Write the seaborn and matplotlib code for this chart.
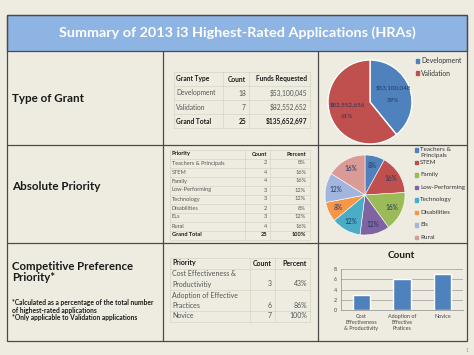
import numpy as np
import pandas as pd
import matplotlib
matplotlib.use('Agg')
import matplotlib.pyplot as plt
from matplotlib.patches import Rectangle
import seaborn as sns

# ---------------- data ----------------
grant_types = ['Development', 'Validation']
grant_counts = [18, 7]
grant_funds = [53100045, 82552652]
grant_total_count = 25
grant_total_funds = 135652697

priorities = ['Teachers & Principals', 'STEM', 'Family', 'Low-Performing',
              'Technology', 'Disabilities', 'ELs', 'Rural']
priority_legend = ['Teachers &\nPrincipals', 'STEM', 'Family', 'Low-Performing',
                   'Technology', 'Disabilities', 'Els', 'Rural']
priority_counts = [2, 4, 4, 3, 3, 2, 3, 4]
priority_pct = ['8%', '16%', '16%', '12%', '12%', '8%', '12%', '16%']

comp_rows = ['Cost Effectiveness &\nProductivitiy', 'Adoption of Effective\nPractices', 'Novice']
comp_bar_labels = ['Cost\nEffectiveness\n& Productivity', 'Adoption of\nEffective\nPratices', 'Novice']
comp_counts = [3, 6, 7]
comp_pct = ['43%', '86%', '100%']

# ---------------- style ----------------
BG = '#EEECE1'
TITLE_BLUE = '#8EB4E3'
LINE = '#4a4a4a'
GRID = '#d6d3c6'
NAVY = '#1F3864'
TXT = '#1a1a1a'
GREY_TXT = '#555555'
grant_colors = ['#4F81BD', '#C0504D']
prio_colors = ['#4F81BD', '#C0504D', '#9BBB59', '#8064A2',
               '#4BACC6', '#F79646', '#A2B6DD', '#D99A98']

W, H = 474, 355
sns.set_theme(style='white')
plt.rcParams['font.family'] = ['Lato', 'DejaVu Sans']

fig = plt.figure(figsize=(W / 100, H / 100), dpi=100)
fig.patch.set_facecolor(BG)


def px_axes(x, y, w, h):
    return fig.add_axes([x / W, 1 - (y + h) / H, w / W, h / H])


bg = px_axes(0, 0, W, H)
bg.set_xlim(0, W)
bg.set_ylim(H, 0)
bg.axis('off')

# frame and grid of the slide
bg.add_patch(Rectangle((7, 15), 460, 36, facecolor=TITLE_BLUE, edgecolor=LINE, lw=0.9))
bg.add_patch(Rectangle((7, 15), 460, 326, facecolor='none', edgecolor=LINE, lw=0.9))
for yy in [145, 243]:
    bg.plot([7, 467], [yy, yy], color=LINE, lw=0.9)
for xx in [163, 318]:
    bg.plot([xx, xx], [51, 341], color=LINE, lw=0.9)

bg.text(237, 33, 'Summary of 2013 i3 Highest-Rated Applications (HRAs)', color='white',
        fontsize=10.4, fontweight='bold', ha='center', va='center')

# left column labels
bg.text(12, 98, 'Type of Grant', fontsize=8.4, fontweight='bold', color=TXT, va='center')
bg.text(12, 187, 'Absolute Priority', fontsize=8.4, fontweight='bold', color=TXT, va='center')
bg.text(12, 272, 'Competitive Preference\nPriority*', fontsize=8.2, fontweight='bold',
        color=TXT, va='center', linespacing=1.1)
bg.text(12, 310, '*Calculated as a percentage of the total number\nof highest-rated applications\n'
        '*Only applicable to Validation applications', fontsize=4.8, fontweight='bold',
        color=TXT, va='center', linespacing=1.15)
bg.text(467, 350, '1', fontsize=4, color='#999999', ha='center', va='center')


def table_lines(x0, x1, y_edges, x_cols):
    for yy in y_edges:
        bg.plot([x0, x1], [yy, yy], color=GRID, lw=0.5)
    for xx in [x0] + x_cols + [x1]:
        bg.plot([xx, xx], [y_edges[0], y_edges[-1]], color=GRID, lw=0.5)


# ---- table 1: grant type ----
t1_y = [79, 93, 107, 121]
table_lines(174, 310, [72, 86, 100, 114, 128], [223, 249])
fs1 = 4.8
bg.text(176, t1_y[0], 'Grant Type', fontsize=fs1, fontweight='bold', color=TXT, va='center')
bg.text(246, t1_y[0], 'Count', fontsize=fs1, fontweight='bold', color=TXT, va='center', ha='right')
bg.text(307, t1_y[0], 'Funds Requested', fontsize=fs1, fontweight='bold', color=TXT, va='center', ha='right')
for i, (g, c, f) in enumerate(zip(grant_types, grant_counts, grant_funds)):
    y = t1_y[i + 1]
    bg.text(176, y, g, fontsize=fs1, color=GREY_TXT, va='center')
    bg.text(246, y, str(c), fontsize=fs1, color=GREY_TXT, va='center', ha='right')
    bg.text(307, y, f'${f:,}', fontsize=fs1, color=GREY_TXT, va='center', ha='right')
bg.text(176, t1_y[3], 'Grand Total', fontsize=fs1, fontweight='bold', color=TXT, va='center')
bg.text(246, t1_y[3], str(grant_total_count), fontsize=fs1, fontweight='bold', color=TXT, va='center', ha='right')
bg.text(307, t1_y[3], f'${grant_total_funds:,}', fontsize=fs1, fontweight='bold', color=TXT, va='center', ha='right')

# ---- table 2: absolute priority ----
fs2 = 4.1
t2_y = [154 + 9 * i for i in range(10)]
table_lines(170, 310, [149.5 + 9 * i for i in range(11)], [245, 270])
bg.text(172, t2_y[0], 'Priority', fontsize=fs2, fontweight='bold', color=TXT, va='center')
bg.text(267, t2_y[0], 'Count', fontsize=fs2, fontweight='bold', color=TXT, va='center', ha='right')
bg.text(306, t2_y[0], 'Percent', fontsize=fs2, fontweight='bold', color=TXT, va='center', ha='right')
for i, (p, c, pc) in enumerate(zip(priorities, priority_counts, priority_pct)):
    y = t2_y[i + 1]
    bg.text(172, y, p, fontsize=fs2, color=GREY_TXT, va='center')
    bg.text(267, y, str(c), fontsize=fs2, color=GREY_TXT, va='center', ha='right')
    bg.text(306, y, pc, fontsize=fs2, color=GREY_TXT, va='center', ha='right')
bg.text(172, t2_y[9], 'Grand Total', fontsize=fs2, fontweight='bold', color=TXT, va='center')
bg.text(267, t2_y[9], str(sum(priority_counts)), fontsize=fs2, fontweight='bold', color=TXT, va='center', ha='right')
bg.text(306, t2_y[9], '100%', fontsize=fs2, fontweight='bold', color=TXT, va='center', ha='right')

# ---- table 3: competitive preference ----
fs3 = 5
table_lines(170, 310, [257.5, 268.5, 289.5, 310.5, 321.5], [250, 275])
bg.text(172, 263, 'Priority', fontsize=fs3, fontweight='bold', color=TXT, va='center')
bg.text(272, 263, 'Count', fontsize=fs3, fontweight='bold', color=TXT, va='center', ha='right')
bg.text(307, 263, 'Percent', fontsize=fs3, fontweight='bold', color=TXT, va='center', ha='right')
row_bottom = [284, 306, 316]
for lab, c, pc, yb in zip(comp_rows, comp_counts, comp_pct, row_bottom):
    bg.text(172, yb + 3.5, lab, fontsize=fs3, color=GREY_TXT, va='bottom', linespacing=1.55)
    bg.text(272, yb, str(c), fontsize=fs3, color=GREY_TXT, va='center', ha='right')
    bg.text(307, yb, pc, fontsize=fs3, color=GREY_TXT, va='center', ha='right')

# ---- pie 1: funds by grant type ----
ax1 = px_axes(328, 60, 84, 84)
ax1.pie(grant_funds, colors=grant_colors, startangle=90, counterclock=False,
        autopct=lambda p: f'${p * sum(grant_funds) / 100:,.0f}\n\n{p:.0f}%',
        pctdistance=0.58, textprops=dict(fontsize=4.5, color=NAVY, linespacing=1.3))
ax1.set_xlim(-1, 1)
ax1.set_ylim(-1, 1)
ax1.set_aspect('equal')
for i, (lab, col) in enumerate(zip(grant_types, grant_colors)):
    y = 61 + 12 * i
    bg.add_patch(Rectangle((416, y - 1.6), 3.2, 3.2, color=col))
    bg.text(421, y, lab, fontsize=4.9, color='#333333', va='center')

# ---- pie 2: absolute priority ----
ax2 = px_axes(325, 155, 80, 80)
ax2.pie(priority_counts, colors=prio_colors, startangle=90, counterclock=False,
        autopct='%.0f%%', pctdistance=0.75,
        wedgeprops=dict(edgecolor='white', linewidth=0.4),
        textprops=dict(fontsize=4.7, color=NAVY))
ax2.set_xlim(-1, 1)
ax2.set_ylim(-1, 1)
ax2.set_aspect('equal')
for i, (lab, col) in enumerate(zip(priority_legend, prio_colors)):
    y = 150 + 12.5 * i
    bg.add_patch(Rectangle((415, y - 1.6), 3.2, 3.2, color=col))
    bg.text(420, y - 2.9, lab, fontsize=4.5, color='#333333', va='top', linespacing=1.1)

# ---- bar chart: competitive preference counts ----
ax3 = px_axes(341, 269, 122, 41)
ax3.set_facecolor(BG)
sns.barplot(x=comp_bar_labels, y=comp_counts, color='#4F81BD', saturation=1,
            width=0.42, ax=ax3, zorder=3)
ax3.set_ylim(0, 8)
ax3.set_yticks([0, 2, 4, 6, 8])
ax3.grid(axis='y', color='#9a9a9a', lw=0.5, zorder=0)
for s in ['top', 'right']:
    ax3.spines[s].set_visible(False)
for s in ['left', 'bottom']:
    ax3.spines[s].set_color('#8a8a8a')
    ax3.spines[s].set_linewidth(0.5)
ax3.tick_params(axis='both', labelsize=3.9, colors='#444444', length=1.5, width=0.5, pad=1.5)
ax3.tick_params(axis='x', length=0, pad=3)
bg.text(401, 255, 'Count', fontsize=7.2, fontweight='bold', color=TXT, ha='center', va='center')

fig.savefig('out.png', dpi=100, facecolor=BG)
